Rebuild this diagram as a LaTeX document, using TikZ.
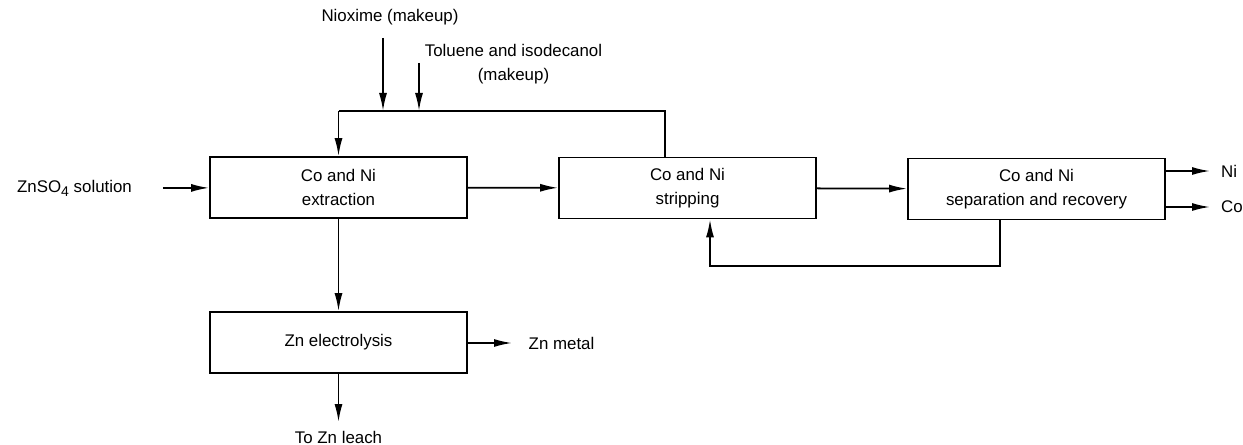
\documentclass[tikz,border=0pt]{standalone}
\usepackage{fontspec}
\setmainfont{Liberation Sans}
\usetikzlibrary{arrows.meta}
\begin{document}
\begin{tikzpicture}[
    block/.style={rectangle, draw, line width=1pt, align=center, minimum width=5.14cm, minimum height=1.22cm, font=\fontsize{9.6}{13.6}\selectfont},
    label/.style={align=center, font=\fontsize{9.6}{13.6}\selectfont},
    arrow/.style={-{Latex[length=3.6mm,width=1.6mm]}, line width=1pt},
    line/.style={line width=1pt}
]
\useasboundingbox (0,0) rectangle (24.86,-8.9);
\node[block] (extract) at (6.77,-3.75) {Co and Ni\\extraction};
\node[block] (strip) at (13.75,-3.76) {Co and Ni\\stripping};
\node[block] (sep) at (20.73,-3.78) {Co and Ni\\separation and recovery};
\node[block] (elec) at (6.77,-6.85) {Zn electrolysis};

\node[label] (feed) at (1.49,-3.76) {ZnSO\raisebox{-0.45ex}{\fontsize{8}{8}\selectfont 4} solution};
\node[label] (nioxime) at (7.8,-0.34) {Nioxime (makeup)};
\node[label] (solvent) at (10.27,-1.28) {Toluene and isodecanol\\(makeup)};
\node[label, anchor=west] (ni) at (24.3,-3.42) {Ni};
\node[label, anchor=west] (co) at (24.3,-4.14) {Co};
\node[label, anchor=west] (znmetal) at (10.45,-6.86) {Zn metal};
\node[label] (leach) at (6.77,-8.74) {To Zn leach};

\coordinate (feedend) at (3.26,-3.76);
\coordinate (topleft) at (6.77,-2.22);
\coordinate (topright) at (13.3,-2.22);
\coordinate (nitop) at (7.66,-0.76);
\coordinate (nibot) at (7.66,-2.22);
\coordinate (soltop) at (8.38,-1.26);
\coordinate (solbot) at (8.38,-2.22);
\coordinate (niout) at (24.2,-3.42);
\coordinate (coout) at (24.2,-4.14);
\coordinate (metalout) at (10.24,-6.86);
\coordinate (leachout) at (6.77,-8.44);
\coordinate (recycle) at (20.0,-5.32);

\draw[arrow] (feedend) -- (extract);
\draw[arrow] (extract) -- (strip);
\draw[arrow] (strip) -- (sep);
\draw[arrow] (extract) -- (elec);
\draw[line] (strip.north -| topright) -- (topright) -- (topleft);
\draw[arrow] (topleft) -- (extract.north);
\draw[arrow] (nitop) -- (nibot);
\draw[arrow] (soltop) -- (solbot);
\draw[arrow] (sep.east |- niout) -- (niout);
\draw[arrow] (sep.east |- coout) -- (coout);
\draw[arrow] (elec.east |- metalout) -- (metalout);
\draw[arrow] (elec) -- (leachout);
\draw[arrow] (sep.south -| recycle) -- (recycle) -| ([xshift=0.45cm]strip.south);
\end{tikzpicture}
\end{document}
